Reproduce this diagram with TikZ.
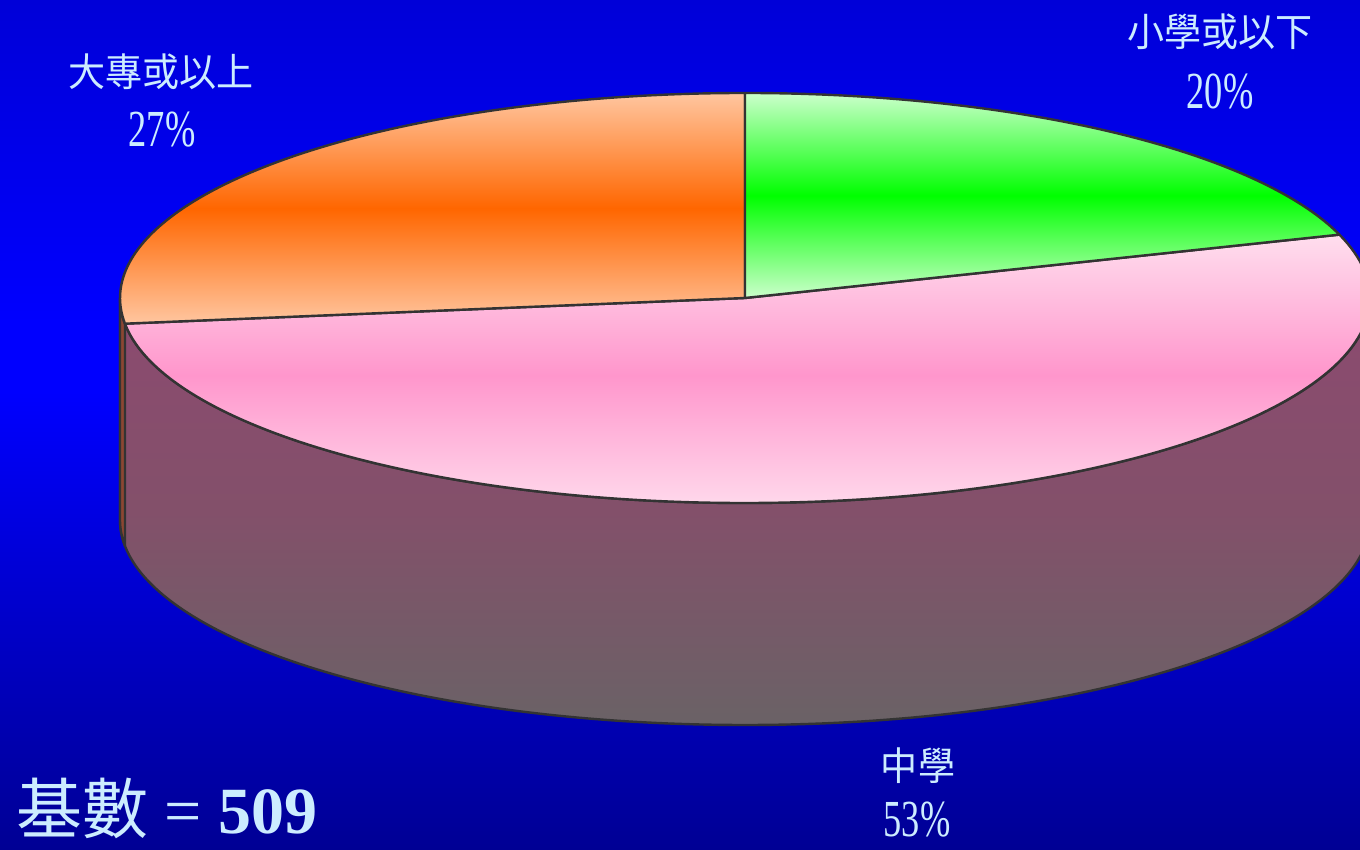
\documentclass[tikz,border=0pt]{standalone}
\usepackage{fontspec}
\setmainfont{Liberation Serif}
\newfontfamily\cjk{Noto Sans CJK TC}
\definecolor{bgtop}{RGB}{0,0,216}
\definecolor{bgmid}{RGB}{0,0,255}
\definecolor{bgbot}{RGB}{0,0,148}
\definecolor{sidetop}{RGB}{140,74,112}
\definecolor{sidemid}{RGB}{131,80,106}
\definecolor{sidebot}{RGB}{106,98,102}
\definecolor{peach}{RGB}{255,198,160}
\definecolor{orng}{RGB}{255,102,0}
\definecolor{lgreen}{RGB}{204,255,204}
\definecolor{bgreen}{RGB}{0,255,0}
\definecolor{lpink}{RGB}{255,222,238}
\definecolor{mpink}{RGB}{255,150,204}
\definecolor{edge}{RGB}{51,51,51}
\definecolor{labc}{RGB}{204,236,255}
\definecolor{stripc}{RGB}{140,70,50}
\pgfdeclareverticalshading{bgshade}{100bp}{color(0bp)=(bgbot); color(25bp)=(bgbot); color(52bp)=(bgmid); color(56bp)=(bgmid); color(75bp)=(bgtop); color(100bp)=(bgtop)}
\pgfdeclareverticalshading{sideshade}{100bp}{color(0bp)=(sidebot); color(25bp)=(sidebot); color(50bp)=(sidemid); color(75bp)=(sidetop); color(100bp)=(sidetop)}
\tikzset{
  outl/.style={draw=edge, line width=1.2pt, line join=round},
  lab/.style={text=labc, inner sep=0pt},
}
\newcommand{\cjklab}[1]{\scalebox{0.95}[1]{\fontsize{19.5pt}{19.5pt}\selectfont\cjk #1}}
\newcommand{\pctlab}[1]{\scalebox{0.7}[1]{\fontsize{26pt}{26pt}\selectfont #1}}
\begin{document}
\begin{tikzpicture}[x=0.5pt,y=0.5pt]
\useasboundingbox (0,0) rectangle (1360,850);
\clip (0,0) rectangle (1360,850);
\shade[shading=bgshade] (0,0) rectangle (1360,850);
% side of the pie
\path[shading=sideshade, outl] (120,552) -- (120,330)
  arc[start angle=180, end angle=360, x radius=625, y radius=205]
  -- (1370,552)
  arc[start angle=0, end angle=-180, x radius=625, y radius=205] -- cycle;
\path[fill=stripc, outl] (120,552)
  arc[start angle=180, end angle=187.2, x radius=625, y radius=205]
  -- ++(0,-222)
  arc[start angle=187.2, end angle=180, x radius=625, y radius=205] -- cycle;
% top slices
\path[top color=lpink, bottom color=lpink, middle color=mpink, outl] (745,552) -- +(187.2:625 and 205)
  arc[start angle=187.2, end angle=378, x radius=625, y radius=205] -- cycle;
\path[top color=peach, bottom color=peach, middle color=orng, outl] (745,552) -- (745,757)
  arc[start angle=90, end angle=187.2, x radius=625, y radius=205] -- cycle;
\path[top color=lgreen, bottom color=lgreen, middle color=bgreen, outl] (745,552) -- +(18:625 and 205)
  arc[start angle=18, end angle=90, x radius=625, y radius=205] -- cycle;
% labels
\node[lab] (l1) at (161,778) {\cjklab{大專或以上}};
\node[lab] (p1) at (162,720) {\pctlab{27\%}};
\node[lab] (l2) at (1220,818) {\cjklab{小學或以下}};
\node[lab] (p2) at (1220,758) {\pctlab{20\%}};
\node[lab] (l3) at (918,84) {\cjklab{中學}};
\node[lab] (p3) at (917,30) {\pctlab{53\%}};
\node[lab, anchor=west] (base) at (16,42) {\fontsize{33pt}{33pt}\selectfont{\cjk 基數} = \textbf{509}};
\end{tikzpicture}
\end{document}
